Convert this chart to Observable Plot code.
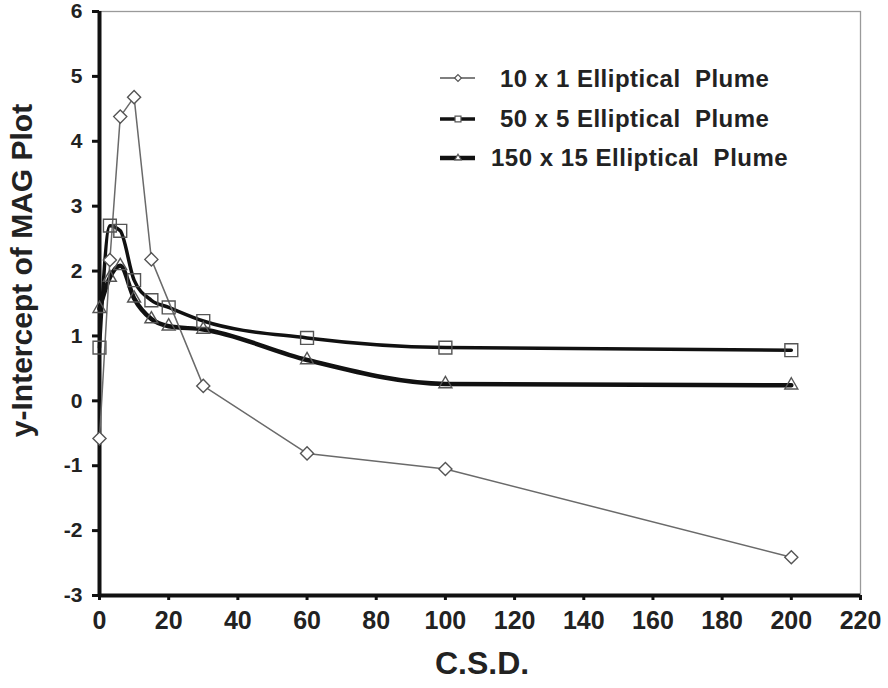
<!DOCTYPE html>
<html><head><meta charset="utf-8">
<script src="https://cdn.jsdelivr.net/npm/d3@7"></script>
<script src="https://cdn.jsdelivr.net/npm/@observablehq/plot@0.6"></script>
<style>
body{margin:0;background:#fff;}
#chart{width:888px;height:688px;}
#chart svg text{font-weight:bold;}
</style></head><body><div id="chart"></div>
<script>
// ---- data ----
const csd1 = [0, 3, 6, 10, 15, 30, 60, 100, 200];
const plume10x1 = [-0.58, 2.17, 4.38, 4.68, 2.18, 0.23, -0.81, -1.05, -2.41];
const csd = [0, 3, 6, 10, 15, 20, 30, 60, 100, 200];
const plume50x5 = [0.82, 2.70, 2.62, 1.86, 1.55, 1.44, 1.23, 0.97, 0.82, 0.78];
const plume150x15 = [1.42, 1.90, 2.08, 1.58, 1.26, 1.15, 1.10, 0.63, 0.26, 0.24];
const xTicks = [0, 20, 40, 60, 80, 100, 120, 140, 160, 180, 200, 220];
const yTicks = [-3, -2, -1, 0, 1, 2, 3, 4, 5, 6];
const seriesNames = ["10 x 1 Elliptical  Plume", "50 x 5 Elliptical  Plume", "150 x 15 Elliptical  Plume"];
const xTitle = "C.S.D.";
const yTitle = "y-Intercept of MAG Plot";

const s1 = csd1.map((x, i) => ({x, y: plume10x1[i]}));
const s2 = csd.map((x, i) => ({x, y: plume50x5[i]}));
const s3 = csd.map((x, i) => ({x, y: plume150x15[i]}));

const font = "'Liberation Sans', Arial, Helvetica, sans-serif";

const plot = Plot.plot({
  width: 888, height: 688,
  marginLeft: 99, marginRight: 28, marginTop: 11, marginBottom: 93,
  style: {fontFamily: font, background: "white", color: "#222", overflow: "visible"},
  x: {domain: [0, 220]},
  y: {domain: [-3, 6]},
  marks: [
    Plot.frame({stroke: "#9a9a9a", strokeWidth: 1.3}),
    Plot.ruleX([0], {stroke: "#111", strokeWidth: 4}),
    Plot.ruleY([-3], {stroke: "#111", strokeWidth: 4}),
    Plot.axisY({ticks: yTicks, tickSize: 7, tickPadding: 10, fontSize: 21, strokeWidth: 3, stroke: "#111", label: null, tickFormat: d => String(d)}),
    Plot.axisX({ticks: xTicks, tickSize: 5, tickPadding: 11, fontSize: 25, strokeWidth: 3, stroke: "#111", label: null, tickFormat: d => String(d)}),
    Plot.line(s2, {x: "x", y: "y", stroke: "#111", strokeWidth: 3.5, curve: "monotone-x"}),
    Plot.line(s3, {x: "x", y: "y", stroke: "#111", strokeWidth: 4.5, curve: "monotone-x"}),
    Plot.line(s1, {x: "x", y: "y", stroke: "#6a6a6a", strokeWidth: 1.5}),
    Plot.dot(s1, {x: "x", y: "y", symbol: "diamond2", r: 5.9, stroke: "#555", fill: "white", strokeWidth: 1.4}),
    Plot.dot(s2, {x: "x", y: "y", symbol: "square2", r: 8.2, stroke: "#555", fill: "none", strokeWidth: 1.4}),
    Plot.dot(s3, {x: "x", y: "y", symbol: "triangle2", r: 6.2, stroke: "#555", fill: "none", strokeWidth: 1.4}),
    Plot.text([xTitle], {text: d => d, frameAnchor: "bottom", textAnchor: "middle", dx: 2, dy: 78, fontSize: 32, fill: "#222"}),
    Plot.text([yTitle], {text: d => d, frameAnchor: "left", textAnchor: "middle", dx: -77, dy: -33, rotate: -90, fontSize: 30, fill: "#222"})
  ]
});

document.getElementById("chart").appendChild(plot);

// ---- legend ----
const leg = d3.select(plot).append("g").attr("font-family", font).attr("text-anchor", "start");
const legRows = [
  {name: seriesNames[0], ly: 78, tx: 500, ty: 87, sw: 1.5, col: "#555", sym: d3.symbolDiamond2, size: 30},
  {name: seriesNames[1], ly: 119, tx: 500, ty: 127, sw: 3.5, col: "#111", sym: d3.symbolSquare2, size: 45},
  {name: seriesNames[2], ly: 158, tx: 491, ty: 166, sw: 4.5, col: "#111", sym: d3.symbolTriangle2, size: 30}
];
legRows.forEach(r => {
  leg.append("line").attr("x1", 440).attr("x2", 475).attr("y1", r.ly).attr("y2", r.ly)
    .attr("stroke", r.col).attr("stroke-width", r.sw);
  leg.append("path").attr("d", d3.symbol(r.sym, r.size)()).attr("transform", `translate(458,${r.ly})`)
    .attr("fill", "white").attr("stroke", "#555").attr("stroke-width", 1.2);
  leg.append("text").attr("x", r.tx).attr("y", r.ty).attr("font-size", 24).attr("font-weight", "bold")
    .attr("text-anchor", "start").attr("letter-spacing", 0.5).attr("fill", "#222")
    .style("white-space", "pre").text(r.name);
});
</script>
</body></html>
